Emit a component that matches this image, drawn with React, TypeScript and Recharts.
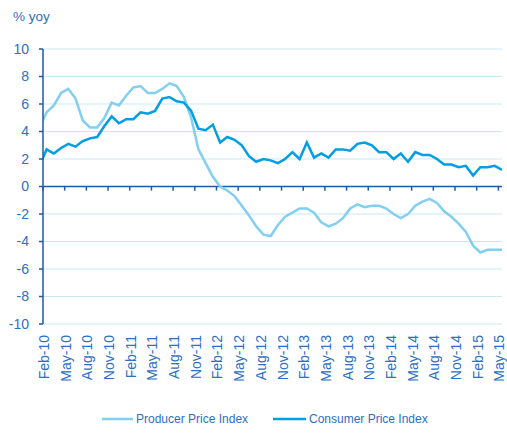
import {
  LineChart,
  Line,
  XAxis,
  YAxis,
  CartesianGrid,
  ReferenceLine,
  Legend,
} from "recharts";

// months, Jan-10 is only there so the line enters the plot at the axis
const months = [
  "Jan-10", "Feb-10", "Mar-10", "Apr-10", "May-10", "Jun-10", "Jul-10", "Aug-10", "Sep-10", "Oct-10", "Nov-10", "Dec-10",
  "Jan-11", "Feb-11", "Mar-11", "Apr-11", "May-11", "Jun-11", "Jul-11", "Aug-11", "Sep-11", "Oct-11", "Nov-11", "Dec-11",
  "Jan-12", "Feb-12", "Mar-12", "Apr-12", "May-12", "Jun-12", "Jul-12", "Aug-12", "Sep-12", "Oct-12", "Nov-12", "Dec-12",
  "Jan-13", "Feb-13", "Mar-13", "Apr-13", "May-13", "Jun-13", "Jul-13", "Aug-13", "Sep-13", "Oct-13", "Nov-13", "Dec-13",
  "Jan-14", "Feb-14", "Mar-14", "Apr-14", "May-14", "Jun-14", "Jul-14", "Aug-14", "Sep-14", "Oct-14", "Nov-14", "Dec-14",
  "Jan-15", "Feb-15", "Mar-15", "Apr-15", "May-15",
];

const ppi = [
  4.3, 5.4, 5.9, 6.8, 7.1, 6.4, 4.8, 4.3, 4.3, 5.0, 6.1, 5.9,
  6.6, 7.2, 7.3, 6.8, 6.8, 7.1, 7.5, 7.3, 6.5, 5.0, 2.7, 1.7,
  0.7, 0.0, -0.3, -0.7, -1.4, -2.1, -2.9, -3.5, -3.6, -2.8, -2.2, -1.9,
  -1.6, -1.6, -1.9, -2.6, -2.9, -2.7, -2.3, -1.6, -1.3, -1.5, -1.4, -1.4,
  -1.6, -2.0, -2.3, -2.0, -1.4, -1.1, -0.9, -1.2, -1.8, -2.2, -2.7, -3.3,
  -4.3, -4.8, -4.6, -4.6, -4.6,
];

const cpi = [
  1.5, 2.7, 2.4, 2.8, 3.1, 2.9, 3.3, 3.5, 3.6, 4.4, 5.1, 4.6,
  4.9, 4.9, 5.4, 5.3, 5.5, 6.4, 6.5, 6.2, 6.1, 5.5, 4.2, 4.1,
  4.5, 3.2, 3.6, 3.4, 3.0, 2.2, 1.8, 2.0, 1.9, 1.7, 2.0, 2.5,
  2.0, 3.2, 2.1, 2.4, 2.1, 2.7, 2.7, 2.6, 3.1, 3.2, 3.0, 2.5,
  2.5, 2.0, 2.4, 1.8, 2.5, 2.3, 2.3, 2.0, 1.6, 1.6, 1.4, 1.5,
  0.8, 1.4, 1.4, 1.5, 1.2,
];

const seriesNames = ["Producer Price Index", "Consumer Price Index"];
const yTicks = [-10, -8, -6, -4, -2, 0, 2, 4, 6, 8, 10];

// each point sits in the middle of its month, ticks at month starts
const data = months.map((m, k) => ({ t: k - 0.5, month: m, ppi: ppi[k], cpi: cpi[k] }));
const xTicks = months.filter((_, k) => k % 3 === 1).map((_, j) => j * 3);
const tickLabel = (t: number) => months[t + 1];

const AXIS = "#1f5aa6";
const TEXT = "#2d6fc2";
const GRID = "#c8e9f8";
const PPI_COLOR = "#82cff2";
const CPI_COLOR = "#009fe3";
const FONT = "'Liberation Sans', Arial, sans-serif";

const XTick = ({ x, payload }: any) => {
  const ax = x + 6;
  const ay = 335;
  return (
    <text
      x={ax}
      y={ay}
      transform={`rotate(-90, ${ax}, ${ay})`}
      textAnchor="end"
      fill={TEXT}
      fontSize={14}
      fontFamily={FONT}
    >
      {tickLabel(payload.value)}
    </text>
  );
};

const LegendContent = ({ payload }: any) => {
  const items = seriesNames
    .map((n) => (payload || []).find((p: any) => p.value === n))
    .filter(Boolean);
  return (
    <div style={{ position: "relative", height: 20, fontFamily: FONT, fontSize: 12, color: TEXT }}>
      {items.map((p: any, i: number) => (
        <div
          key={p.value}
          style={{
            position: "absolute",
            left: i === 0 ? 102 : 273,
            top: 2,
            display: "flex",
            alignItems: "center",
            whiteSpace: "nowrap",
          }}
        >
          <svg width={i === 0 ? 31 : 33} height={14}>
            <line x1={0} y1={7} x2={i === 0 ? 31 : 33} y2={7} stroke={p.color} strokeWidth={2.5} />
          </svg>
          <span style={{ marginLeft: 3 }}>{p.value}</span>
        </div>
      ))}
    </div>
  );
};

export default function App() {
  return (
    <div style={{ position: "absolute", left: 0, top: 0, width: 507, height: 433, background: "#fff" }}>
      <div
        style={{
          position: "absolute",
          left: 13,
          top: 8,
          fontFamily: FONT,
          fontSize: 13.5,
          lineHeight: "17px",
          color: TEXT,
        }}
      >
        % yoy
      </div>
      <LineChart
        width={507}
        height={433}
        data={data}
        margin={{ top: 49, right: 5, bottom: 0, left: 0 }}
      >
        <CartesianGrid horizontal vertical={false} stroke={GRID} strokeWidth={1} />
        <XAxis
          type="number"
          dataKey="t"
          domain={[0, 63.5]}
          allowDataOverflow
          ticks={xTicks}
          interval={0}
          axisLine={false}
          tickLine={false}
          height={109}
          tick={<XTick />}
        />
        <YAxis
          type="number"
          domain={[-10, 10]}
          ticks={yTicks}
          interval={0}
          width={43}
          axisLine={{ stroke: AXIS, strokeWidth: 1.5 }}
          tickLine={{ stroke: AXIS, strokeWidth: 1.5 }}
          tickSize={4}
          tickMargin={10}
          tick={{ fill: TEXT, fontSize: 14, fontFamily: FONT }}
        />
        <ReferenceLine y={0} stroke={AXIS} strokeWidth={1.5} />
        {xTicks.map((t) => (
          <ReferenceLine
            key={t}
            segment={[
              { x: t, y: 0 },
              { x: t, y: -0.3 },
            ]}
            stroke={AXIS}
            strokeWidth={1.5}
          />
        ))}
        <Line
          type="linear"
          dataKey="ppi"
          name={seriesNames[0]}
          stroke={PPI_COLOR}
          strokeWidth={2.5}
          dot={false}
          isAnimationActive={false}
        />
        <Line
          type="linear"
          dataKey="cpi"
          name={seriesNames[1]}
          stroke={CPI_COLOR}
          strokeWidth={2.5}
          dot={false}
          isAnimationActive={false}
        />
        <Legend
          layout="horizontal"
          verticalAlign="middle"
          align="center"
          wrapperStyle={{ top: 410, left: 0, width: 507 }}
          content={<LegendContent />}
        />
      </LineChart>
    </div>
  );
}
